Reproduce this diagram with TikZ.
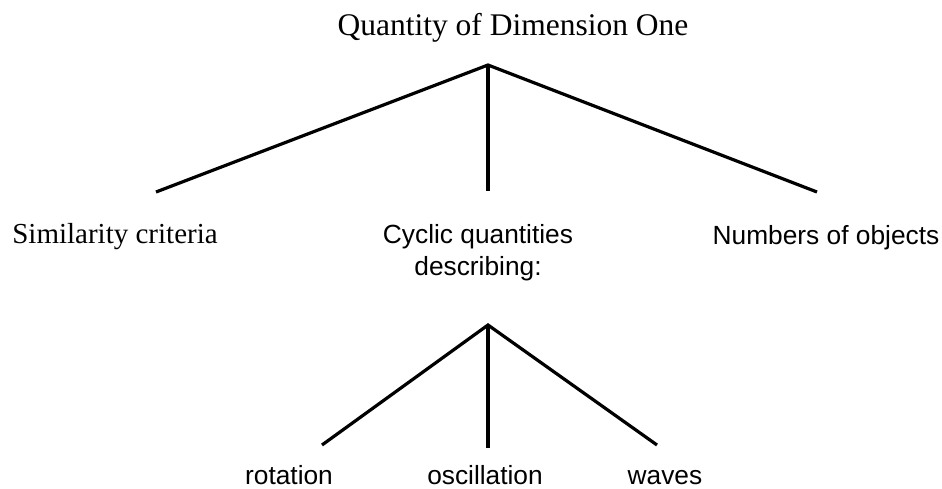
\documentclass[tikz,border=0pt]{standalone}
\usepackage{fontspec}
\setmainfont{Liberation Serif}
\setsansfont{Liberation Sans}
\begin{document}
\begin{tikzpicture}[x=1pt,y=-1pt,
  titlelabel/.style={font=\fontsize{31.5}{36}\selectfont, anchor=base, inner sep=0pt},
  seriflabel/.style={font=\fontsize{29}{34}\selectfont, anchor=base, inner sep=0pt},
  sanslabel/.style={font=\sffamily\fontsize{26.3}{32}\selectfont, anchor=base, inner sep=0pt, align=center},
  branch/.style={line width=3.2pt, line cap=butt, line join=miter}]
\useasboundingbox[fill=white] (0,0) rectangle (942,488);

\node[titlelabel] (title) at (513,35) {Quantity of Dimension One};
\node[seriflabel] (sim) at (115,243) {Similarity criteria};
\node[sanslabel] (cyc) at (478,275) {Cyclic quantities\\describing:};
\node[sanslabel] (num) at (826,244) {Numbers of objects};
\node[sanslabel] (rot) at (289,484) {rotation};
\node[sanslabel] (osc) at (485,484) {oscillation};
\node[sanslabel] (wav) at (665,484) {waves};

\coordinate (topapex) at (488,65);
\coordinate (tl) at (156,192);
\coordinate (tm) at (488,191);
\coordinate (tr) at (817,192);
\coordinate (botapex) at (488,325);
\coordinate (bl) at (322,445);
\coordinate (bm) at (488,448);
\coordinate (br) at (657,445);

\draw[branch] (tl) -- (topapex) -- (tr);
\draw[branch] (topapex) -- (tm);
\draw[branch] (bl) -- (botapex) -- (br);
\draw[branch] (botapex) -- (bm);
\end{tikzpicture}
\end{document}
